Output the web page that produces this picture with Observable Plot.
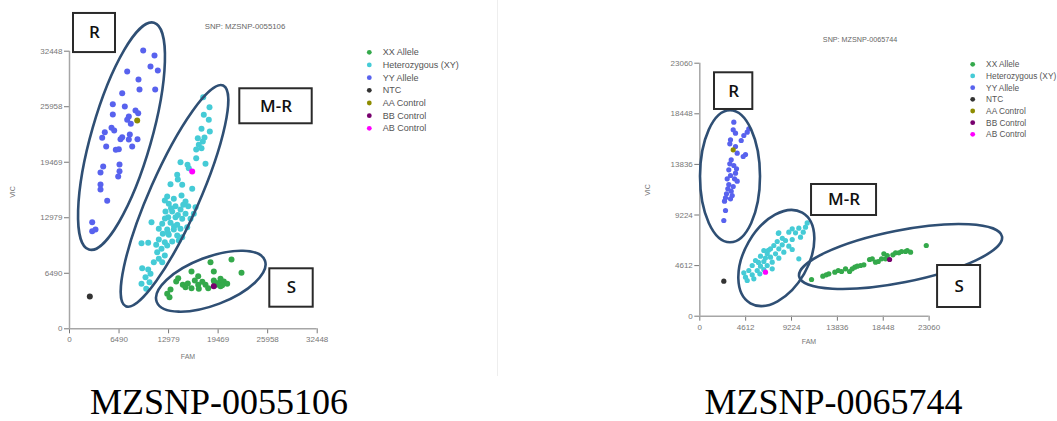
<!DOCTYPE html>
<html>
<head>
<meta charset="utf-8">
<script src="https://cdn.jsdelivr.net/npm/d3@7"></script>
<script src="https://cdn.jsdelivr.net/npm/@observablehq/plot@0.6"></script>
<style>
  body { margin: 0; background: #fff; }
  #wrap { position: relative; width: 1057px; height: 421px; overflow: hidden; background: #fff; }
  .panel { position: absolute; top: 0; }
  #overlay { position: absolute; left: 0; top: 0; pointer-events: none; }
</style>
</head>
<body>
<div id="wrap">
  <div id="left" class="panel" style="left:0px"></div>
  <div id="right" class="panel" style="left:600px"></div>
</div>
<script>
// ---------- categories / legend ----------
const groups = ["XX Allele", "Heterozygous (XY)", "YY Allele", "NTC", "AA Control", "BB Control", "AB Control"];
const groupColors = ["#34a94b", "#45cbd6", "#5862ee", "#333333", "#8e8c00", "#78006e", "#ff00ff"];

// ---------- chart titles & captions ----------
const snpTitles = ["SNP: MZSNP-0055106", "SNP: MZSNP-0065744"];
const captions = ["MZSNP-0055106", "MZSNP-0065744"];
const clusterLabels = ["R", "M-R", "S"];

// ---------- tick values ----------
const leftTicks = [0, 6490, 12979, 19469, 25958, 32448];
const rightTicks = [0, 4612, 9224, 13836, 18448, 23060];

// ---------- left chart data [FAM, VIC] ----------
const leftXX = [[18471,7785],[21222,8101],[18903,6698],[22532,6546],[15982,6698],[16860,6149],[14240,5915],[13978,5529],[14842,5144],[16414,5646],[16860,5144],[17816,5144],[18903,5646],[19781,5845],[20213,5529],[20659,5261],[19218,5144],[15982,4746],[16938,4676],[18170,4746],[13231,4594],[12799,4092],[13100,3694],[15196,4863],[19781,4980],[19500,5350],[20000,5100],[19000,5400],[17400,5500],[15500,5300]];
const leftHet = [[17515,27074],[18340,25905],[17593,25017],[18248,24432],[17292,23380],[18379,23065],[16807,22281],[17685,22363],[17462,21896],[16938,21510],[17292,21112],[16598,20960],[16598,19943],[17816,19289],[14541,19476],[15458,19172],[15628,18774],[14109,18003],[14187,17454],[13231,16904],[14764,16834],[16074,16366],[12799,15466],[12484,15008],[13663,15197],[14672,15583],[15196,14881],[13008,14613],[13886,14332],[15550,14332],[16506,14215],[12576,13712],[13454,13712],[14541,13946],[15196,13443],[16283,13443],[12930,13046],[13886,13046],[14764,12859],[15851,12859],[10742,12462],[12144,12275],[13231,12391],[14109,12158],[11698,11690],[12799,11608],[13663,11608],[14541,11690],[15419,11877],[12222,11106],[13008,10989],[14109,10907],[14764,10708],[11698,10439],[12484,10124],[13454,10205],[14318,10322],[9432,10007],[10310,10053],[11358,9820],[12799,9738],[12052,9352],[11489,8955],[12484,8569],[11698,8183],[11043,7786],[12144,7786],[9524,7084],[10310,6932],[10611,6430],[9956,6032],[9432,5260],[10480,5448],[10048,4676],[13300,14100],[14200,13300],[12500,12900],[13700,12000],[12900,11200],[14900,14500]];
const leftYY = [[9655,32533],[11135,31948],[10611,30663],[11567,30196],[7559,30079],[9039,29144],[9170,27975],[11227,27975],[6904,27542],[5672,26256],[7244,25987],[8646,25519],[9000,25204],[5672,25052],[7768,24818],[7559,24432],[8030,23965],[5502,23497],[5856,23181],[4624,22983],[4284,22328],[6904,22398],[6681,22165],[7899,22714],[7768,22129],[8908,22165],[4808,21311],[6065,20925],[6458,20995],[8214,21311],[4415,18973],[6550,19207],[4061,18271],[6550,18423],[6380,17804],[4061,16869],[4061,16285],[4939,14963],[2974,12462],[2974,11410],[3406,11608]];
const leftNTC = [[2659,3776]];
const leftAA = [[8869,24350]];
const leftBB = [[18903,4980]];
const leftAB = [[16074,18389]];

// ---------- right chart data [FAM, VIC] ----------
const rightXX = [[11237,3345],[12374,3646],[12716,3774],[13581,4011],[13923,4166],[14657,4321],[15060,4074],[15593,4466],[16166,4621],[16498,4685],[17072,5168],[17947,4986],[18279,5232],[18510,5688],[18852,5533],[19416,5597],[19687,5779],[20291,5897],[20864,5989],[21196,5834],[22776,6444],[12977,3865],[14255,4074],[15331,4321],[15834,4558],[17343,5232],[17675,4922],[18681,5232],[20019,5779],[20693,5897]];
const rightHet = [[9295,7966],[9959,8021],[10633,8112],[10402,7657],[9627,7602],[8953,7657],[7947,7602],[10130,7201],[8621,6900],[9295,6991],[7786,6809],[8289,6508],[8953,6381],[7444,6444],[7112,6144],[7947,6144],[9295,6080],[6438,5989],[6780,5688],[7615,5688],[8450,5834],[6106,5469],[7112,5378],[7947,5287],[5603,5077],[6438,4986],[7283,4922],[5271,4621],[6106,4558],[6780,4621],[9959,5232],[4929,4166],[5774,4166],[6438,4257],[4426,3956],[5271,3774],[6036,3865],[4597,3555],[5432,3409],[4768,3254],[7283,4321],[10800,8500],[7900,7550],[8300,7100],[6900,6000],[5900,4900],[6600,5300]];
const rightYY = [[3420,17683],[3360,16990],[3591,16680],[4426,16471],[4929,17082],[4768,16772],[3088,16079],[4165,16015],[3018,15714],[3591,15468],[3762,14857],[4597,14739],[4366,14557],[3159,14256],[3018,13891],[3420,13736],[3692,13436],[2917,13344],[3591,13034],[3088,12825],[3491,12524],[2756,12524],[3762,12305],[2917,12005],[3360,11822],[2817,11613],[3159,11394],[2686,11157],[3259,11002],[2585,10792],[2485,10482],[3088,10701],[2585,9634],[2414,8723]];
const rightNTC = [[2414,3190]];
const rightAA = [[3360,15167]];
const rightBB = [[19084,5168]];
const rightAB = [[6609,4011]];

// ---------- annotations (cluster ellipses & label boxes, data coords) ----------
const leftEllipses = [
  {cx: 6878, cy: 22457, rx: 30, ry: 118, rot: 16},
  {cx: 13821, cy: 15478, rx: 25, ry: 120.6, rot: 23.8},
  {cx: 18576, cy: 5506, rx: 57.9, ry: 24, rot: -20.9}
];
const rightEllipses = [
  {cx: 3088, cy: 12706, rx: 30, ry: 66, rot: 0},
  {cx: 7746, cy: 5259, rx: 32, ry: 52.2, rot: 29.8},
  {cx: 20241, cy: 5396, rx: 103.4, ry: 26, rot: -11.2}
];
const leftBoxes = [
  {label: clusterLabels[0], x1: 524, x2: 6026, y1: 32289, y2: 36859},
  {label: clusterLabels[1], x1: 22309, x2: 31794, y1: 23965, y2: 28056},
  {label: clusterLabels[2], x1: 26239, x2: 31925, y1: 2525, y2: 7014}
];
const rightBoxes = [
  {label: clusterLabels[0], x1: 1479, x2: 5332, y1: 18841, y2: 22186},
  {label: clusterLabels[1], x1: 11237, x2: 17775, y1: 9179, y2: 12004},
  {label: clusterLabels[2], x1: 23913, x2: 28239, y1: 793, y2: 4621}
];

function table(sets) {
  const rows = [];
  sets.forEach((pts, i) => pts.forEach(([fam, vic]) => rows.push({group: groups[i], fam, vic})));
  return rows;
}

const ellipseMark = (list) => (index, scales) => {
  const g = d3.create("svg:g").attr("fill", "none").attr("stroke", "#2f4f74").attr("stroke-width", 2.6);
  for (const e of list) {
    const cx = scales.x(e.cx), cy = scales.y(e.cy);
    g.append("ellipse").attr("cx", cx).attr("cy", cy).attr("rx", e.rx).attr("ry", e.ry)
      .attr("transform", `rotate(${e.rot} ${cx} ${cy})`);
  }
  return g.node();
};

function makeChart(cfg) {
  const rows = table(cfg.sets);
  const main = rows.filter(d => groups.indexOf(d.group) < 3);
  const ctrl = rows.filter(d => groups.indexOf(d.group) >= 3);
  const max = cfg.ticks[cfg.ticks.length - 1];
  return Plot.plot({
    width: cfg.width, height: cfg.height,
    marginLeft: cfg.ml, marginRight: cfg.mr, marginTop: cfg.mt, marginBottom: cfg.mb,
    style: {fontFamily: "'Liberation Sans', Arial, sans-serif", fontSize: "8px", color: "#777", background: "transparent", overflow: "visible"},
    x: {domain: [0, max], ticks: cfg.ticks, tickFormat: d => String(d), label: null, tickSize: 5, tickPadding: 3},
    y: {domain: [0, max], ticks: cfg.ticks, tickFormat: d => String(d), label: null, tickSize: 5, tickPadding: 2},
    color: {domain: groups, range: groupColors},
    marks: [
      Plot.ruleX([0], {stroke: "#a6a6a6", strokeWidth: 1.5}),
      Plot.ruleY([0], {stroke: "#a6a6a6", strokeWidth: 1.5}),
      Plot.dot(main, {x: "fam", y: "vic", fill: "group", r: cfg.r}),
      Plot.dot(ctrl, {x: "fam", y: "vic", fill: "group", r: cfg.r}),
      ellipseMark(cfg.ellipses),
      Plot.rect(cfg.boxes, {x1: "x1", x2: "x2", y1: "y1", y2: "y2", fill: "white", stroke: "#2a2a2a", strokeWidth: 2}),
      Plot.text(cfg.boxes, {x: d => (d.x1 + d.x2) / 2, y: d => (d.y1 + d.y2) / 2, text: "label", fontSize: 17, fontWeight: 600, fill: "#111", fontFamily: "'Open Sans', 'Liberation Sans', sans-serif"})
    ]
  });
}

document.getElementById("left").appendChild(makeChart({
  sets: [leftXX, leftHet, leftYY, leftNTC, leftAA, leftBB, leftAB],
  ticks: leftTicks, width: 497, height: 370, ml: 69, mr: 180.3, mt: 50.7, mb: 41.7, r: 3,
  ellipses: leftEllipses, boxes: leftBoxes
}));
document.getElementById("right").appendChild(makeChart({
  sets: [rightXX, rightHet, rightYY, rightNTC, rightAA, rightBB, rightAB],
  ticks: rightTicks, width: 457, height: 360, ml: 99.3, mr: 128.4, mt: 62.7, mb: 44.3, r: 2.6,
  ellipses: rightEllipses, boxes: rightBoxes
}));

// ---------- overlay texts: titles, axis names, legends, captions ----------
const ov = d3.select("#wrap").append("svg").attr("id", "overlay").attr("width", 1057).attr("height", 421)
  .style("font-family", "'Liberation Sans', Arial, sans-serif");
ov.append("line").attr("x1", 497.5).attr("x2", 497.5).attr("y1", 0).attr("y2", 376).attr("stroke", "#eeeeee");

const panels = [
  {title: snpTitles[0], tx: 245, ty: 29, tsize: 7.8, vicX: 15, vicY: 192, famX: 188, famY: 359,
   lx: 369.3, ly: 52.3, ldy: 12.67, lsize: 9, cap: captions[0], capX: 219, capY: 414},
  {title: snpTitles[1], tx: 860, ty: 42, tsize: 7.2, vicX: 650, vicY: 190, famX: 809, famY: 344,
   lx: 972.7, ly: 64.3, ldy: 11.67, lsize: 8.3, cap: captions[1], capX: 833.5, capY: 414}
];
for (const p of panels) {
  ov.append("text").attr("x", p.tx).attr("y", p.ty).attr("text-anchor", "middle")
    .attr("font-size", p.tsize).attr("fill", "#666").text(p.title);
  ov.append("text").attr("transform", `translate(${p.vicX},${p.vicY}) rotate(-90)`).attr("text-anchor", "middle")
    .attr("font-size", 7).attr("fill", "#777").text("VIC");
  ov.append("text").attr("x", p.famX).attr("y", p.famY).attr("text-anchor", "middle")
    .attr("font-size", 7).attr("fill", "#777").text("FAM");
  groups.forEach((gname, i) => {
    const y = p.ly + i * p.ldy;
    ov.append("circle").attr("cx", p.lx).attr("cy", y).attr("r", 2.4).attr("fill", groupColors[i]);
    ov.append("text").attr("x", p.lx + 13.4).attr("y", y).attr("dy", "0.35em")
      .attr("font-size", p.lsize).attr("fill", "#555").text(gname);
  });
  ov.append("text").attr("x", p.capX).attr("y", p.capY).attr("text-anchor", "middle")
    .attr("font-family", "'Liberation Serif', 'Times New Roman', serif").attr("font-size", 36)
    .attr("fill", "#000").text(p.cap);
}
</script>
</body>
</html>
